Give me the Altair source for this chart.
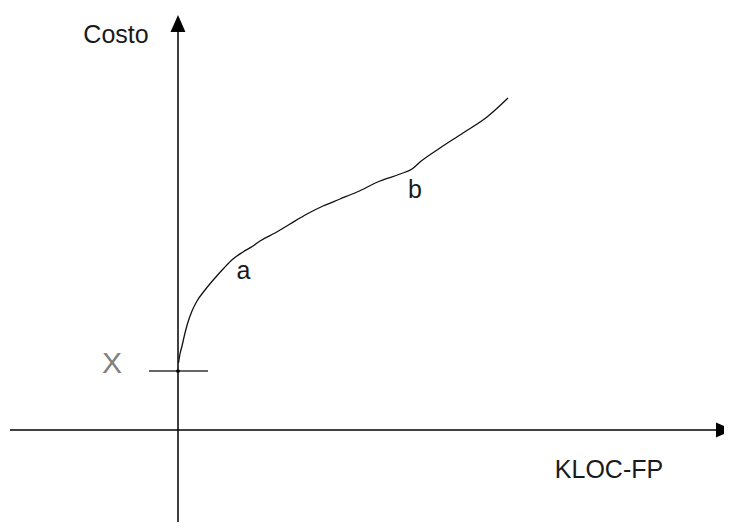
import altair as alt
import pandas as pd

# Curve (cost vs size), origin at the axes crossing
curve_x = [0.5, 2, 4, 7, 10, 14, 19, 27, 37, 46, 55, 65, 75, 82, 97, 112, 129, 145,
           162, 179, 202, 222, 234, 242, 262, 285, 309, 330]
curve_y = [67, 76, 84, 97, 108, 119, 129, 140, 152, 162, 171, 178, 184, 189, 197, 206,
           216, 224, 231, 238, 249, 256, 261, 268, 282, 297, 313, 332]

# Fixed cost X
fixed_cost = 59

# Labels
label_text = ["Costo", "a", "b", "KLOC-FP"]
label_x = [-62, 65.5, 237, 431]
label_y = [387, 151, 232, -48]

X_DOM = [-170, 546]
Y_DOM = [-92, 422]

xs = alt.Scale(domain=X_DOM, nice=False, zero=False)
ys = alt.Scale(domain=Y_DOM, nice=False, zero=False)

curve_df = pd.DataFrame({"x": curve_x, "y": curve_y, "i": range(len(curve_x))})
curve = alt.Chart(curve_df).mark_line(color="#111", strokeWidth=1.3,
                                      interpolate="monotone").encode(
    x=alt.X("x:Q", scale=xs, axis=None),
    y=alt.Y("y:Q", scale=ys, axis=None),
    order="i:Q",
)

yaxis = alt.Chart(pd.DataFrame({"x": [0], "y": [-100], "y2": [398]})).mark_rule(
    color="#000", strokeWidth=1.5).encode(
    x=alt.X("x:Q", scale=xs, axis=None),
    y=alt.Y("y:Q", scale=ys, axis=None), y2="y2:Q")

xaxis = alt.Chart(pd.DataFrame({"y": [0], "x": [-168], "x2": [540]})).mark_rule(
    color="#000", strokeWidth=1.5).encode(
    x=alt.X("x:Q", scale=xs, axis=None), x2="x2:Q",
    y=alt.Y("y:Q", scale=ys, axis=None))

up_arrow = alt.Chart(pd.DataFrame({"x": [0], "y": [406.5]})).mark_point(
    shape="M0,-1L0.88,1L-0.88,1Z", size=289, filled=True, color="#000", opacity=1).encode(
    x=alt.X("x:Q", scale=xs, axis=None),
    y=alt.Y("y:Q", scale=ys, axis=None))

right_arrow = alt.Chart(pd.DataFrame({"x": [546.5], "y": [0]})).mark_point(
    shape="M1,0L-1,-0.88L-1,0.88Z", size=289, filled=True, color="#000", opacity=1).encode(
    x=alt.X("x:Q", scale=xs, axis=None),
    y=alt.Y("y:Q", scale=ys, axis=None))

tick = alt.Chart(pd.DataFrame({"y": [fixed_cost], "x": [-29], "x2": [30]})).mark_rule(
    color="#333", strokeWidth=1.5).encode(
    x=alt.X("x:Q", scale=xs, axis=None), x2="x2:Q",
    y=alt.Y("y:Q", scale=ys, axis=None))

dot = alt.Chart(pd.DataFrame({"x": [0], "y": [fixed_cost]})).mark_point(
    shape="circle", size=14, filled=True, color="#000", opacity=1).encode(
    x=alt.X("x:Q", scale=xs, axis=None),
    y=alt.Y("y:Q", scale=ys, axis=None))

labels_df = pd.DataFrame({"t": label_text, "x": label_x, "y": label_y})
labels = alt.Chart(labels_df).mark_text(
    font="Liberation Sans", fontSize=25, color="#1a1a1a", align="center",
    baseline="alphabetic").encode(
    x=alt.X("x:Q", scale=xs, axis=None),
    y=alt.Y("y:Q", scale=ys, axis=None),
    text="t:N")

xlabel = alt.Chart(pd.DataFrame({"t": ["X"], "x": [-66], "y": [57]})).mark_text(
    font="Liberation Sans", fontSize=30, color="#808080", align="center",
    baseline="alphabetic").encode(
    x=alt.X("x:Q", scale=xs, axis=None),
    y=alt.Y("y:Q", scale=ys, axis=None),
    text="t:N")

chart = alt.layer(yaxis, xaxis, up_arrow, right_arrow, tick, curve, dot, labels, xlabel).properties(
    width=716, height=514, padding=0, autosize=alt.AutoSizeParams(type="none"),
    background="white",
).configure_view(stroke=None)

chart.save("out.html", embed_options={"renderer": "svg", "actions": False})
